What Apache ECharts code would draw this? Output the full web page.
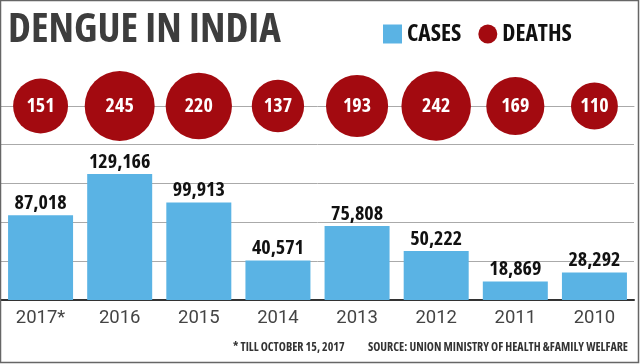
<!DOCTYPE html>
<html>
<head>
<meta charset="utf-8">
<script src="https://cdn.jsdelivr.net/npm/echarts@6/dist/echarts.min.js"></script>
<style>
html,body{margin:0;padding:0;background:#fff;}
#c{width:640px;height:364px;}
</style>
</head>
<body>
<div id="c"></div>
<script>
var years = ['2017*', '2016', '2015', '2014', '2013', '2012', '2011', '2010'];
var cases = [87018, 129166, 99913, 40571, 75808, 50222, 18869, 28292];
var deaths = [151, 245, 220, 137, 193, 242, 169, 110];
var yTicks = [0, 40000, 80000, 120000, 160000];

var OS = "'Open Sans'";
var chart = echarts.init(document.getElementById('c'), null, {renderer: 'canvas'});

var deathData = years.map(function (y, i) { return [y, 0, deaths[i]]; });

chart.setOption({
  animation: false,
  backgroundColor: '#fff',
  title: [
    {text: 'DENGUE IN INDIA', left: 3, top: 5,
     textStyle: {fontFamily: OS, fontStyle: 'condensed', fontWeight: 'bold', fontSize: 41, color: '#3d3d3d'}},
    {text: '* TILL OCTOBER 15, 2017', left: 228, top: 337,
     textStyle: {fontFamily: OS, fontStyle: 'semi-condensed', fontWeight: 'bold', fontSize: 12, color: '#333'}},
    {text: 'SOURCE: UNION MINISTRY OF HEALTH &FAMILY WELFARE', left: 363, top: 337,
     textStyle: {fontFamily: OS, fontStyle: 'semi-condensed', fontWeight: 'bold', fontSize: 12, color: '#333'}}
  ],
  legend: {
    left: 378, top: 17, itemWidth: 19, itemHeight: 19, itemGap: 17,
    textStyle: {fontFamily: OS, fontStyle: 'condensed', fontWeight: 'bold', fontSize: 23.5, color: '#111'},
    data: [{name: 'CASES', icon: 'rect'}, {name: 'DEATHS', icon: 'circle'}]
  },
  grid: [
    {left: 1, right: 6, top: 144, bottom: 64},
    {left: 1, right: 6, top: 96, height: 20}
  ],
  xAxis: [
    {type: 'category', gridIndex: 0, data: years,
     axisLine: {lineStyle: {color: '#333', width: 2}},
     axisTick: {show: false},
     axisLabel: {fontFamily: 'Roboto', fontSize: 18.5, color: '#444', margin: 9}},
    {type: 'category', gridIndex: 1, data: years,
     axisLine: {onZero: true, lineStyle: {color: '#aaa', width: 1}},
     axisTick: {show: false}, axisLabel: {show: false}}
  ],
  yAxis: [
    {type: 'value', gridIndex: 0, min: yTicks[0], max: yTicks[yTicks.length - 1], interval: 40000,
     axisLabel: {show: false}, axisLine: {show: false}, axisTick: {show: false},
     splitLine: {lineStyle: {color: '#aaa', width: 1}}},
    {type: 'value', gridIndex: 1, min: -1, max: 1,
     axisLabel: {show: false}, axisLine: {show: false}, axisTick: {show: false},
     splitLine: {show: false}}
  ],
  series: [
    {name: 'CASES', type: 'bar', xAxisIndex: 0, yAxisIndex: 0, data: cases,
     barWidth: 65,
     itemStyle: {color: '#5ab3e4'},
     label: {show: true, position: 'top', distance: 2,
       fontFamily: OS, fontStyle: 'condensed', fontWeight: 'bold', fontSize: 20, color: '#111',
       formatter: function (p) { return p.value.toLocaleString('en-US'); }}},
    {name: 'DEATHS', type: 'scatter', xAxisIndex: 1, yAxisIndex: 1, data: deathData,
     symbol: 'circle',
     symbolSize: function (v) { return 4.47 * Math.sqrt(v[2]); },
     itemStyle: {color: '#a30a10', opacity: 1},
     label: {show: true, position: 'inside',
       fontFamily: OS, fontStyle: 'condensed', fontWeight: 'bold', fontSize: 20, color: '#fff',
       formatter: function (p) { return String(p.value[2]); }}}
  ],
  graphic: [
    {type: 'rect', shape: {x: 0.5, y: 0.5, width: 638, height: 362},
     style: {fill: 'none', stroke: '#666', lineWidth: 1.5}, silent: true, z: 100}
  ]
});
</script>
</body>
</html>
